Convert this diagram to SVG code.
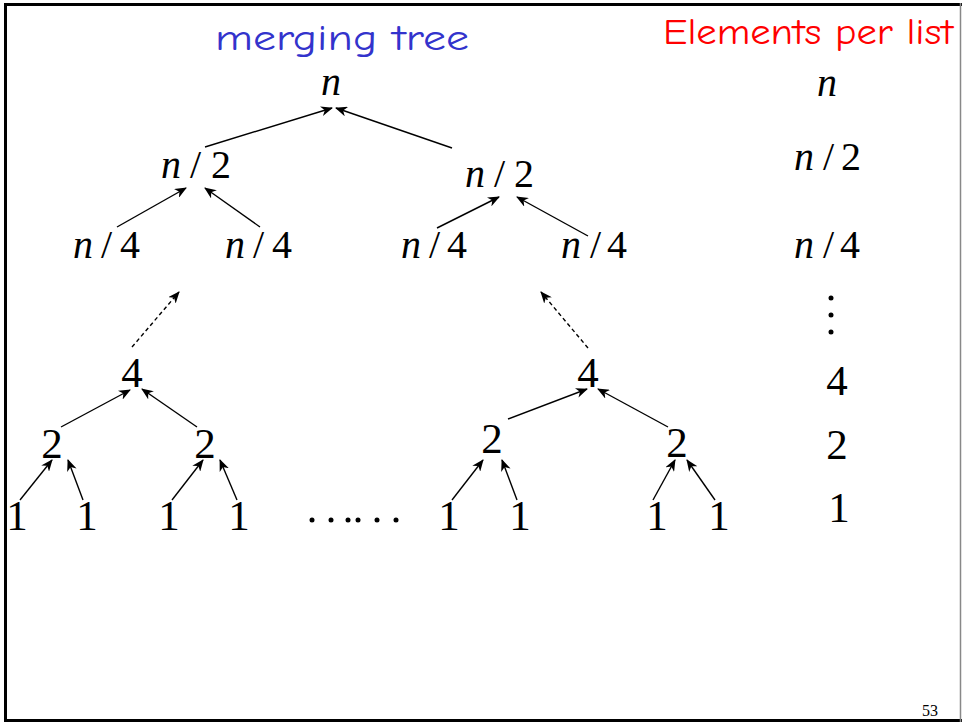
<svg xmlns="http://www.w3.org/2000/svg" width="962" height="723" viewBox="0 0 962 723">
<style>
.m{font-family:"Liberation Serif","Times New Roman",serif;font-size:40px;fill:#000}
.i{font-style:italic}
.d{font-family:"Liberation Serif","Times New Roman",serif;font-size:43px;fill:#000;text-anchor:middle}
.e{stroke:#000;stroke-width:1.4;fill:none;marker-end:url(#ah)}
.dash{stroke-dasharray:4 3}
.title{font-family:"Comic Sans MS","Comic Neue","DejaVu Sans",sans-serif;font-size:36px}
</style>
<defs>
<marker id="ah" markerWidth="12" markerHeight="10" refX="11" refY="5" orient="auto" markerUnits="userSpaceOnUse">
<path d="M0,0 L12,5 L0,10 L3.5,5 Z" fill="#000"/>
</marker>
</defs>
<rect x="0" y="0" width="962" height="723" fill="#fff"/>
<g id="frame">
<line x1="4" y1="4.5" x2="962" y2="4.5" stroke="#000" stroke-width="3"/>
<line x1="5.5" y1="3" x2="5.5" y2="722" stroke="#000" stroke-width="3"/>
<line x1="4" y1="720.5" x2="962" y2="720.5" stroke="#000" stroke-width="3"/>
<line x1="960.5" y1="3" x2="960.5" y2="722" stroke="#888" stroke-width="1.5"/>
</g>
<g id="titles">
<text class="title" x="215" y="50" fill="#3333cc" textLength="254" lengthAdjust="spacingAndGlyphs">merging tree</text>
<text class="title" x="663" y="44" fill="#ff0000" textLength="290" lengthAdjust="spacingAndGlyphs">Elements per list</text>
</g>
<g id="connectors">
<line class="e" x1="205" y1="147" x2="332" y2="108"/>
<line class="e" x1="452" y1="148" x2="336" y2="108"/>
<line class="e" x1="117" y1="227" x2="186" y2="188"/>
<line class="e" x1="260" y1="227" x2="205" y2="188"/>
<line class="e" x1="437" y1="228" x2="499" y2="197"/>
<line class="e" x1="588" y1="236" x2="517" y2="197"/>
<line class="e dash" x1="132" y1="347" x2="179" y2="292"/>
<line class="e dash" x1="588" y1="348" x2="541" y2="292"/>
<line class="e" x1="61" y1="427" x2="130" y2="390"/>
<line class="e" x1="197" y1="427" x2="142" y2="389"/>
<line class="e" x1="508" y1="419" x2="587" y2="389"/>
<line class="e" x1="668" y1="427" x2="598" y2="389"/>
<line class="e" x1="20" y1="500" x2="52" y2="460"/>
<line class="e" x1="83" y1="500" x2="68" y2="460"/>
<line class="e" x1="172" y1="500" x2="203" y2="460"/>
<line class="e" x1="237" y1="500" x2="220" y2="460"/>
<line class="e" x1="452" y1="500" x2="483" y2="460"/>
<line class="e" x1="517" y1="500" x2="502" y2="460"/>
<line class="e" x1="653" y1="500" x2="675" y2="460"/>
<line class="e" x1="715" y1="500" x2="687" y2="460"/>
</g>
<g id="root"><text class="m i" x="321" y="95">n</text></g>
<g id="n2-left"><text class="m" y="178"><tspan class="i" x="161">n</tspan><tspan x="190">/</tspan><tspan x="211">2</tspan></text></g>
<g id="n2-right"><text class="m" y="187"><tspan class="i" x="465">n</tspan><tspan x="494">/</tspan><tspan x="514">2</tspan></text></g>
<g id="n4-a"><text class="m" y="258"><tspan class="i" x="73">n</tspan><tspan x="101">/</tspan><tspan x="120">4</tspan></text></g>
<g id="n4-b"><text class="m" y="258"><tspan class="i" x="225">n</tspan><tspan x="253">/</tspan><tspan x="272">4</tspan></text></g>
<g id="n4-c"><text class="m" y="258"><tspan class="i" x="401">n</tspan><tspan x="429">/</tspan><tspan x="447">4</tspan></text></g>
<g id="n4-d"><text class="m" y="258"><tspan class="i" x="561">n</tspan><tspan x="590">/</tspan><tspan x="607">4</tspan></text></g>
<g id="four-left"><text class="d" x="132" y="387">4</text></g>
<g id="four-right"><text class="d" x="588" y="387">4</text></g>
<g id="two-a"><text class="d" x="52" y="458">2</text></g>
<g id="two-b"><text class="d" x="205" y="458">2</text></g>
<g id="two-c"><text class="d" x="492" y="453">2</text></g>
<g id="two-d"><text class="d" x="677" y="457">2</text></g>
<g id="ones">
<text class="d" x="17" y="530">1</text>
<text class="d" x="87" y="530">1</text>
<text class="d" x="169" y="530">1</text>
<text class="d" x="239" y="530">1</text>
<text class="d" x="449" y="530">1</text>
<text class="d" x="520" y="530">1</text>
<text class="d" x="657" y="530">1</text>
<text class="d" x="719" y="530">1</text>
</g>
<g id="ellipsis">
<circle cx="312" cy="520" r="2.5"/><circle cx="331" cy="520" r="2.5"/><circle cx="348" cy="520" r="2.5"/><circle cx="358" cy="520" r="2.5"/><circle cx="377" cy="520" r="2.5"/><circle cx="396" cy="520" r="2.5"/>
</g>
<g id="column">
<text class="m i" x="817" y="96">n</text>
<text class="m" y="170"><tspan class="i" x="794">n</tspan><tspan x="823">/</tspan><tspan x="841">2</tspan></text>
<text class="m" y="258"><tspan class="i" x="794">n</tspan><tspan x="823">/</tspan><tspan x="840">4</tspan></text>
<circle cx="831" cy="298" r="2.5"/><circle cx="831" cy="315" r="2.5"/><circle cx="831" cy="332" r="2.5"/>
<text class="d" x="837" y="395">4</text>
<text class="d" x="837" y="459">2</text>
<text class="d" x="839" y="522">1</text>
</g>
<text x="930" y="716" font-family="Liberation Serif, serif" font-size="16" text-anchor="middle">53</text>
</svg>
